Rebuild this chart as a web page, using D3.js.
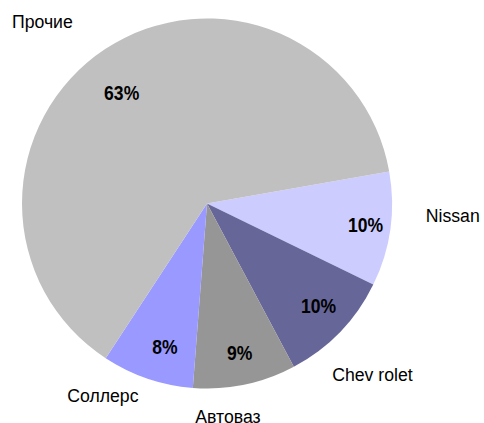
<!DOCTYPE html>
<html>
<head>
<meta charset="utf-8">
<script src="https://cdn.jsdelivr.net/npm/d3@7"></script>
<style>
  body { margin: 0; background: #fff; }
  text { font-family: "Liberation Sans", Arial, sans-serif; }
</style>
</head>
<body>
<svg id="chart" width="484" height="423"></svg>
<script>
const names = ["Nissan", "Chev rolet", "Автоваз", "Соллерс", "Прочие"];
const shares = [10, 10, 9, 8, 63];
const colors = ["#CCCCFF", "#666699", "#969696", "#9999FF", "#C0C0C0"];

// nudges for the name labels (Excel moved them off the mid angle)
const nameNudge = [[18, -20], [0, 11], [-26, -12], [-30, -26], [-38, 10]];
const pctNudge = [[5, 0], [0, -5], [1, -2], [8, -3], [0, 19]];

const cx = 207, cy = 203.5, r = 185;

const svg = d3.select("#chart");
const g = svg.append("g").attr("transform", `translate(${cx},${cy})`);

const pie = d3.pie()
  .sort(null)
  .startAngle(80 * Math.PI / 180)
  .endAngle(440 * Math.PI / 180);

const arcs = pie(shares);

const arc = d3.arc().innerRadius(0).outerRadius(r);
const pctArc = d3.arc().innerRadius(155).outerRadius(155);
const nameArc = d3.arc().innerRadius(230).outerRadius(230);

g.selectAll("path")
  .data(arcs)
  .join("path")
  .attr("d", arc)
  .attr("fill", (d, i) => colors[i]);

// narrow-looking text like the original (Arial Narrow-ish)
g.selectAll(".pct")
  .data(arcs)
  .join("text")
  .attr("class", "pct")
  .attr("transform", (d, i) => {
    const [x, y] = pctArc.centroid(d);
    return `translate(${x + pctNudge[i][0]},${y + pctNudge[i][1]}) scale(0.9,1)`;
  })
  .attr("text-anchor", "middle")
  .attr("dominant-baseline", "central")
  .attr("font-size", 19.5)
  .attr("font-weight", "bold")
  .attr("fill", "#000")
  .text(d => d.data + "%");

g.selectAll(".name")
  .data(arcs)
  .join("text")
  .attr("class", "name")
  .attr("transform", (d, i) => {
    const [x, y] = nameArc.centroid(d);
    return `translate(${x + nameNudge[i][0]},${y + nameNudge[i][1]}) scale(0.93,1)`;
  })
  .attr("text-anchor", "middle")
  .attr("dominant-baseline", "central")
  .attr("font-size", 19)
  .attr("fill", "#000")
  .text((d, i) => names[i]);
</script>
</body>
</html>
